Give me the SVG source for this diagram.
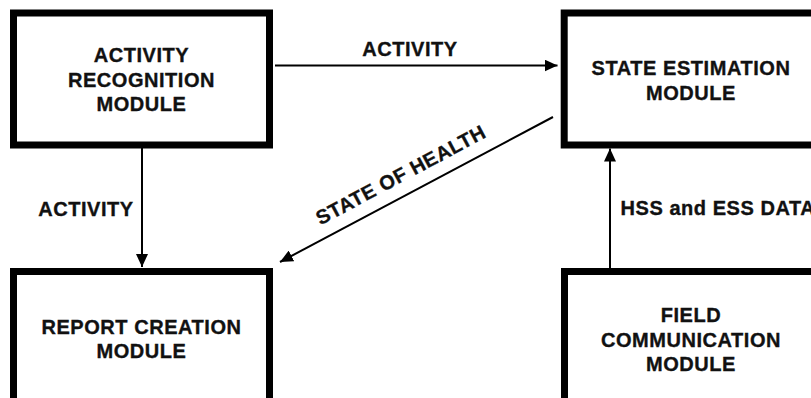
<svg xmlns="http://www.w3.org/2000/svg" width="811" height="398" viewBox="0 0 811 398">
<style>
  .box { fill: #ffffff; stroke: #000000; stroke-width: 7; }
  .lbl { font-family: "Liberation Sans", Arial, Helvetica, sans-serif; font-weight: bold; font-size: 20px; letter-spacing: 0.55px; fill: #111111; stroke: #111111; stroke-width: 0.35px; }
  .mid { text-anchor: middle; }
  .edge { stroke: #000000; stroke-width: 2; fill: none; marker-end: url(#ah); }
</style>
<defs>
  <marker id="ah" markerWidth="13" markerHeight="12" refX="13" refY="6" orient="auto" markerUnits="userSpaceOnUse">
    <path d="M0,0 L13,6 L0,12 Z" fill="#000000"/>
  </marker>
</defs>
<rect x="0" y="0" width="811" height="398" fill="#ffffff"/>
<g id="connectors">
  <line class="edge" x1="275" y1="65.5" x2="557.5" y2="65.5"/>
  <line class="edge" x1="142" y1="148" x2="142" y2="267"/>
  <line class="edge" x1="610" y1="268" x2="610" y2="148.5"/>
  <line class="edge" x1="553" y1="117" x2="280" y2="262"/>
  <text class="lbl mid" x="410" y="56">ACTIVITY</text>
  <text class="lbl mid" x="86" y="216">ACTIVITY</text>
  <text class="lbl" x="620.5" y="215">HSS and ESS DATA</text>
  <text class="lbl mid" transform="translate(404,181) rotate(-28)" x="0" y="0">STATE OF HEALTH</text>
</g>
<g id="activity-recognition">
  <rect class="box" x="13.5" y="13" width="256" height="132"/>
  <text class="lbl mid" x="141.5" y="61.5">ACTIVITY</text>
  <text class="lbl mid" x="141.5" y="86.5">RECOGNITION</text>
  <text class="lbl mid" x="141.5" y="111">MODULE</text>
</g>
<g id="state-estimation">
  <rect class="box" x="564.2" y="13" width="260" height="132"/>
  <text class="lbl mid" x="691" y="75">STATE ESTIMATION</text>
  <text class="lbl mid" x="691" y="99.5">MODULE</text>
</g>
<g id="report-creation">
  <rect class="box" x="13.5" y="271.5" width="256" height="140"/>
  <text class="lbl mid" x="141.5" y="333.5">REPORT CREATION</text>
  <text class="lbl mid" x="141.5" y="357.5">MODULE</text>
</g>
<g id="field-communication">
  <rect class="box" x="564.5" y="271.5" width="260" height="140"/>
  <text class="lbl mid" x="691" y="321.5">FIELD</text>
  <text class="lbl mid" x="691" y="346.5">COMMUNICATION</text>
  <text class="lbl mid" x="691" y="371">MODULE</text>
</g>
</svg>
